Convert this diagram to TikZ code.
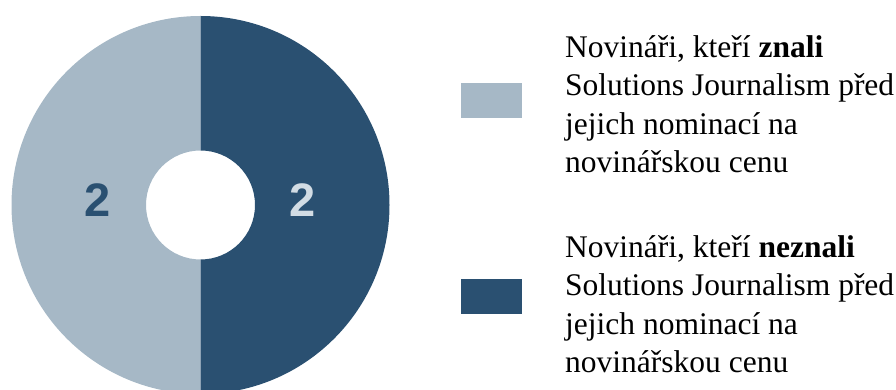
\documentclass[tikz,border=0pt]{standalone}
\usepackage{fontspec}
\setmainfont{Liberation Serif}
\newfontfamily\numfont{Liberation Sans}
\usetikzlibrary{positioning}

\definecolor{lightslice}{HTML}{A6B8C6}
\definecolor{darkslice}{HTML}{2A5071}
\definecolor{lightnum}{HTML}{D2DCE4}

\tikzset{
  keybox/.style={minimum width=61pt, minimum height=35pt, inner sep=0pt},
  keytext/.style={anchor=base west, align=left, inner sep=0pt, font=\fontsize{31.5}{38.5}\selectfont},
  slicenum/.style={font=\numfont\bfseries\fontsize{47}{47}\selectfont},
}

\begin{document}
\begin{tikzpicture}[x=1pt, y=1pt]
    \useasboundingbox (0,0) rectangle (896,390);
    \coordinate (c) at (200.5,185);

    % the two halves of the ring
    \fill[lightslice] (c) ++(0,189) arc[start angle=90, end angle=270, radius=189]
        -- ++(0,134.5) arc[start angle=270, end angle=90, radius=54.5] -- cycle;
    \fill[darkslice] (c) ++(0,189) arc[start angle=90, end angle=-90, radius=189]
        -- ++(0,134.5) arc[start angle=-90, end angle=90, radius=54.5] -- cycle;

    \node[slicenum, text=darkslice] (numA) at (97.5,190) {2};
    \node[slicenum, text=lightnum] (numB) at (303,190) {2};

    % legend
    \node[keybox, fill=lightslice] (keyA) at (491.5,289.5) {};
    \node[keybox, fill=darkslice] (keyB) at (491.5,93.5) {};

    \node[keytext] (labA) at (565,217) {Novináři, kteří \textbf{znali}\\Solutions Journalism před\\jejich nominací na\\novinářskou cenu};
    \node[keytext] (labB) at (565,17) {Novináři, kteří \textbf{neznali}\\Solutions Journalism před\\jejich nominací na\\novinářskou cenu};

\end{tikzpicture}
\end{document}
